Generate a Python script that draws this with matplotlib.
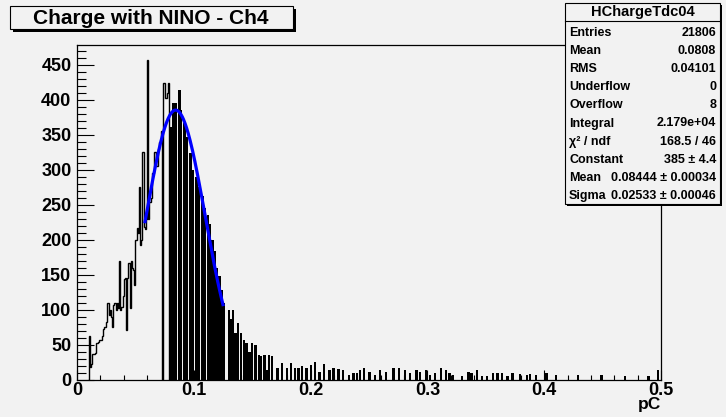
import numpy as np
import matplotlib
matplotlib.use("Agg")
import matplotlib.pyplot as plt
from matplotlib.patches import Rectangle
from matplotlib.lines import Line2D
from matplotlib.ticker import MultipleLocator, FuncFormatter

plt.rcParams['font.family'] = ['Liberation Sans', 'DejaVu Sans']
plt.rcParams['font.weight'] = 'bold'

W, H = 726, 417
BG = '#f2f2f2'

# left, continuous part of the spectrum: 0.001 pC bins starting at 0.009 pC
left_start = 0.009
left_binw = 0.001
left_counts = [0, 62, 18, 22, 36, 36, 38, 52, 52, 54,
               56, 56, 62, 72, 75, 75, 82, 109, 92, 100,
               90, 75, 106, 109, 100, 109, 102, 169, 99, 104,
               120, 144, 145, 71, 145, 166, 102, 170, 160, 156,
               135, 200, 216, 210, 275, 192, 200, 325, 218, 215,
               230, 456, 230, 254, 260, 295, 295, 325, 325, 305,
               330, 340, 340, 355, 0, 423, 402, 402, 410, 423]

# quantised peak region (bin centre, counts)
peak_x = [0.0802, 0.0828, 0.0848, 0.0876, 0.0892, 0.0920, 0.0940,
          0.0970, 0.0990, 0.1025, 0.1045, 0.1076, 0.1092,
          0.1120, 0.1140, 0.1160, 0.1180, 0.1200, 0.1220, 0.1240, 0.1258]
peak_h = [361, 395, 395, 413, 385, 366, 347,
          323, 299, 290, 275, 262, 245,
          235, 222, 200, 183, 160, 148, 128, 110]

# tail spikes (bin centre, counts)
tail_x = [0.1299, 0.1316, 0.1333, 0.1356, 0.1381, 0.1405, 0.1427, 0.1450,
          0.1476, 0.1498, 0.1527, 0.1556, 0.1575, 0.1604, 0.1624, 0.1644,
          0.1670, 0.1718, 0.1753, 0.1798, 0.1832, 0.1867, 0.1895, 0.1926,
          0.1966, 0.2001, 0.2038, 0.2075, 0.2115, 0.2161, 0.2195, 0.2238,
          0.2280, 0.2329, 0.2366, 0.2395, 0.2423, 0.2460, 0.2503, 0.2551,
          0.2595, 0.2646, 0.2709, 0.2757, 0.2809, 0.2851, 0.2908, 0.2937,
          0.2988, 0.3022, 0.3065, 0.3114, 0.3159, 0.3188, 0.3222, 0.3294,
          0.3351, 0.3379, 0.3422, 0.3465, 0.3513, 0.3559, 0.3599, 0.3636,
          0.3685, 0.3730, 0.3793, 0.3850, 0.3879, 0.3930, 0.4021, 0.4101,
          0.4292, 0.4492, 0.4692, 0.4892, 0.4977]
tail_h = [99, 87, 99, 66, 81, 66, 57, 52,
          40, 52, 49, 35, 34, 35, 13, 35,
          34, 17, 24, 16, 23, 17, 17, 19,
          17, 21, 25, 11, 22, 14, 16, 15,
          13, 6, 10, 10, 14, 17, 11, 7,
          14, 11, 16, 16, 13, 10, 14, 11,
          14, 6, 10, 16, 13, 10, 7, 5,
          11, 10, 14, 5, 5, 9, 9, 9,
          5, 9, 8, 7, 8, 7, 9, 6,
          6, 6, 5, 5, 13]

# gaussian fit parameters (from stats box) and fit range
fit_const, fit_mean, fit_sigma = 385.0, 0.08444, 0.02533
fit_lo, fit_hi = 0.058, 0.1253

title = "Charge with NINO - Ch4"
hist_name = "HChargeTdc04"
stat_labels = ["Entries", "Mean", "RMS", "Underflow", "Overflow", "Integral",
               "\u03c7\u00b2 / ndf", "Constant", "Mean", "Sigma"]
stat_values = ["21806", "0.0808", "0.04101", "0", "8", "2.179e+04",
               "168.5 / 46", "385 \u00b1 4.4", "0.08444 \u00b1 0.00034",
               "0.02533 \u00b1 0.00046"]


def fx(px):
    return px / W


def fy(py):
    return 1 - py / H


fig = plt.figure(figsize=(W / 100, H / 100), dpi=100, facecolor=BG)
ax = fig.add_axes([fx(77), fy(379.5), (661 - 77) / W, (379.5 - 45) / H])
ax.set_facecolor(BG)

edges = left_start + left_binw * np.arange(len(left_counts) + 1)
ax.stairs(left_counts, edges, baseline=0, fill=False, color='black', lw=1.0, zorder=3)
ax.bar(peak_x, peak_h, width=0.0021, color='black', lw=0, zorder=3)
ax.bar(tail_x, tail_h, width=0.002, color='black', lw=0, zorder=3)

xf = np.linspace(fit_lo, fit_hi, 200)
yf = fit_const * np.exp(-0.5 * ((xf - fit_mean) / fit_sigma) ** 2)
ax.plot(xf, yf, color='#0000ff', lw=2.3, zorder=4, solid_capstyle='butt')

ax.set_xlim(0, 0.5)
ax.set_ylim(0, 478)
for s in ax.spines.values():
    s.set_linewidth(0.9)
ax.xaxis.set_major_locator(MultipleLocator(0.1))
ax.xaxis.set_minor_locator(MultipleLocator(0.02))
ax.yaxis.set_major_locator(MultipleLocator(50))
ax.yaxis.set_minor_locator(MultipleLocator(10))
ax.xaxis.set_major_formatter(FuncFormatter(lambda v, p: '0' if abs(v) < 1e-9 else '%g' % v))
ax.tick_params(axis='y', which='major', direction='in', length=12.5, width=0.8,
               labelsize=13, pad=4)
ax.tick_params(axis='y', which='minor', direction='in', length=6.5, width=0.8)
ax.tick_params(axis='x', which='major', direction='in', length=7, width=0.8,
               labelsize=13, pad=2)
ax.tick_params(axis='x', which='minor', direction='in', length=3.6, width=0.8)
for lab in ax.get_xticklabels() + ax.get_yticklabels():
    lab.set_fontweight('bold')

fig.text(fx(661), fy(405), "pC", ha='right', va='center', fontsize=12.5, fontweight='bold')

# title box
fig.patches.append(Rectangle((fx(13), fy(32)), fx(283), 23 / H, transform=fig.transFigure,
                             facecolor='black', edgecolor='none', zorder=5))
fig.patches.append(Rectangle((fx(10), fy(29)), fx(283), 23 / H, transform=fig.transFigure,
                             facecolor=BG, edgecolor='black', lw=0.8, zorder=6))
fig.text(fx(151), fy(18), title, ha='center', va='center', fontsize=15,
         fontweight='bold', zorder=7)

# stats box
bx0, by0, bx1, by1 = 565, 3, 720, 204
fig.patches.append(Rectangle((fx(bx0 + 2), fy(by1 + 2)), fx(bx1 - bx0), (by1 - by0) / H,
                             transform=fig.transFigure, facecolor='black',
                             edgecolor='none', zorder=5))
fig.patches.append(Rectangle((fx(bx0), fy(by1)), fx(bx1 - bx0), (by1 - by0) / H,
                             transform=fig.transFigure, facecolor=BG,
                             edgecolor='black', lw=0.8, zorder=6))
fig.add_artist(Line2D([fx(bx0), fx(bx1)], [fy(21), fy(21)], color='black', lw=0.8, zorder=7))
fig.text(fx((bx0 + bx1) / 2), fy(12), hist_name, ha='center', va='center',
         fontsize=10.5, fontweight='bold', zorder=8)
for i, (lab, val) in enumerate(zip(stat_labels, stat_values)):
    y = 33 + 18.1 * i
    fig.text(fx(569), fy(y), lab, ha='left', va='center', fontsize=9,
             fontweight='bold', zorder=8)
    fig.text(fx(716), fy(y), val, ha='right', va='center', fontsize=9,
             fontweight='bold', zorder=8)

fig.savefig("out.png", dpi=100, facecolor=BG)
